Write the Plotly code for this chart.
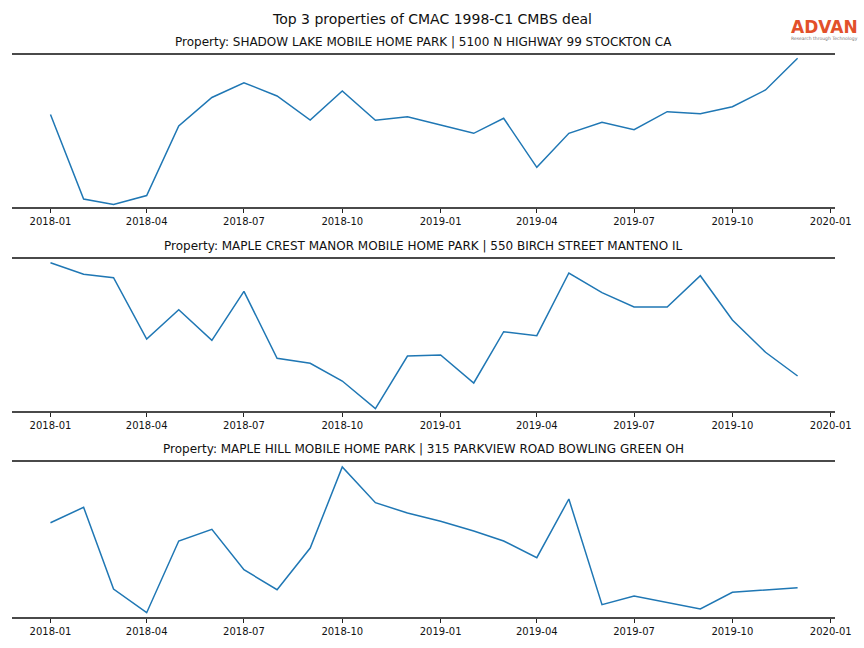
import plotly.graph_objects as go

months = ["2018-01-01","2018-02-01","2018-03-01","2018-04-01","2018-05-01","2018-06-01",
          "2018-07-01","2018-08-01","2018-09-01","2018-10-01","2018-11-01","2018-12-01",
          "2019-01-01","2019-02-01","2019-03-01","2019-04-01","2019-05-01","2019-06-01",
          "2019-07-01","2019-08-01","2019-09-01","2019-10-01","2019-11-01","2019-12-01"]

shadow_lake = [92.5, 8, 2.5, 11.5, 81, 109.5, 124.3, 111, 87, 116, 86.7, 90.3,
               82, 73.7, 88.7, 39.7, 73.7, 84.7, 77.3, 95.3, 93.3, 100.3, 117, 148.7]
maple_crest = [148.3, 136.7, 133.3, 72, 101.3, 70.7, 119.7, 52.7, 47.7, 30, 2.3, 55,
               56, 28, 79.3, 75.3, 138, 118.3, 104, 104, 135.3, 91, 58.7, 35]
maple_hill = [94.3, 109.7, 28, 4.3, 76, 87.7, 47.3, 27.3, 69, 150, 114.3, 104,
              95.7, 86, 76, 59.3, 118, 12.3, 21, 14.7, 8, 24.7, 27, 29.3]

series = [shadow_lake, maple_crest, maple_hill]
titles = ["Property: SHADOW LAKE MOBILE HOME PARK | 5100 N HIGHWAY 99 STOCKTON CA",
          "Property: MAPLE CREST MANOR MOBILE HOME PARK | 550 BIRCH STREET MANTENO IL",
          "Property: MAPLE HILL MOBILE HOME PARK | 315 PARKVIEW ROAD BOWLING GREEN OH"]
tick_vals = ["2018-01-01","2018-04-01","2018-07-01","2018-10-01","2019-01-01",
             "2019-04-01","2019-07-01","2019-10-01","2020-01-01"]
main_title = "Top 3 properties of CMAC 1998-C1 CMBS deal"

W, H = 864, 648
# pixel boxes (top, bottom) for each panel
boxes = [(55, 207), (259, 411), (462, 617)]
yranges = [[0, 152], [0, 152], [0, 155]]
FONT = "DejaVu Sans"

fig = go.Figure()
for i, vals in enumerate(series):
    n = "" if i == 0 else str(i + 1)
    fig.add_trace(go.Scatter(x=months, y=vals, mode="lines",
                             line=dict(color="#1f77b4", width=1.5),
                             xaxis="x" + n, yaxis="y" + n, showlegend=False,
                             hoverinfo="x+y"))
    top, bot = boxes[i]
    fig.layout["xaxis" + n] = dict(
        domain=[12 / W, 835 / W], anchor="y" + n, type="date",
        range=["2017-11-26", "2020-01-05"], automargin=False,
        tickvals=tick_vals, tickformat="%Y-%m",
        ticks="outside", ticklen=4, tickwidth=1, tickcolor="#222",
        showline=True, mirror=True, linewidth=2, linecolor="#4a4a4a",
        showgrid=False, zeroline=False,
        tickfont=dict(family=FONT, size=10, color="#111"),
    )
    fig.layout["yaxis" + n] = dict(
        domain=[1 - bot / H, 1 - top / H], anchor="x" + n, automargin=False,
        range=yranges[i], showticklabels=False, ticks="", showgrid=False,
        zeroline=False, showline=False,
    )
    fig.add_annotation(text=titles[i], x=423.5 / W, y=1 - (top - 13) / H,
                       xref="paper", yref="paper", showarrow=False,
                       xanchor="center", yanchor="middle",
                       font=dict(family=FONT, size=12, color="#111"))

fig.add_annotation(text=main_title, x=431.5 / W, y=1 - 19 / H, xref="paper", yref="paper",
                   showarrow=False, xanchor="center", yanchor="middle",
                   font=dict(family=FONT, size=14, color="#111"))
# logo
fig.add_annotation(text="<b>ADVAN</b>", x=824 / W, y=1 - 27 / H, xref="paper", yref="paper",
                   showarrow=False, xanchor="center", yanchor="middle",
                   font=dict(family=FONT, size=17, color="#e2502a"))
fig.add_annotation(text="Research through Technology", x=824 / W, y=1 - 38.5 / H,
                   xref="paper", yref="paper", showarrow=False,
                   xanchor="center", yanchor="middle",
                   font=dict(family=FONT, size=4.5, color="#777"))

fig.update_layout(width=W, height=H, autosize=False,
                  margin=dict(l=0, r=0, t=0, b=0, autoexpand=False),
                  paper_bgcolor="white", plot_bgcolor="white")
fig.write_html(
    "out.html",
    config={"displayModeBar": False},
    post_script="document.body.style.margin='0';",
)
